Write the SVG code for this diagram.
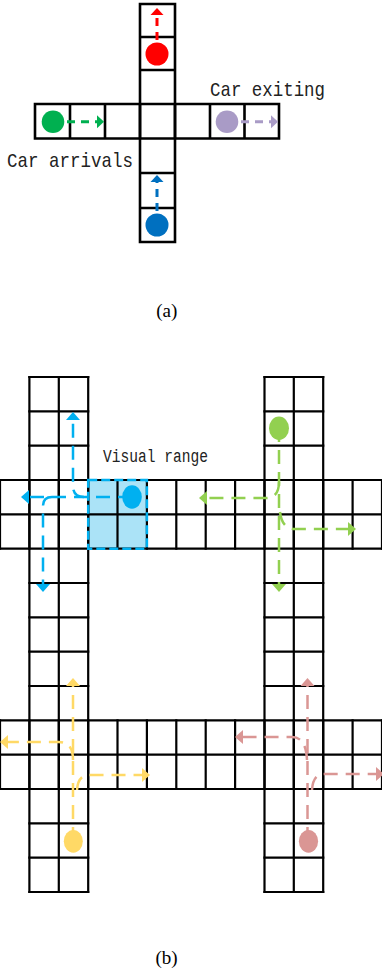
<svg xmlns="http://www.w3.org/2000/svg" width="382" height="974" viewBox="0 0 382 974">
<style>
.grid{fill:none;stroke:#000;stroke-width:2.2;stroke-linecap:square}
.grida{fill:none;stroke:#000;stroke-width:2.6;stroke-linecap:square}
.lbl{font-family:"Liberation Mono","DejaVu Sans Mono",monospace;fill:#222}
.cap{font-family:"Liberation Serif","Times New Roman",serif;font-size:19px;fill:#000;text-anchor:middle}
.da{fill:none;stroke-width:3;stroke-dasharray:8 6}
.db{fill:none;stroke-width:2.5;stroke-dasharray:14 8}
</style>
<defs>
<marker id="ah-red" markerUnits="userSpaceOnUse" markerWidth="8" markerHeight="13" refX="0" refY="6.5" orient="auto" overflow="visible"><path d="M0,0L7,6.5L0,13z" fill="#FF0000"/></marker>
<marker id="ah-green" markerUnits="userSpaceOnUse" markerWidth="8" markerHeight="13" refX="0" refY="6.5" orient="auto" overflow="visible"><path d="M0,0L7,6.5L0,13z" fill="#00B050"/></marker>
<marker id="ah-purple" markerUnits="userSpaceOnUse" markerWidth="8" markerHeight="13" refX="0" refY="6.5" orient="auto" overflow="visible"><path d="M0,0L7,6.5L0,13z" fill="#A99BC6"/></marker>
<marker id="ah-blue" markerUnits="userSpaceOnUse" markerWidth="8" markerHeight="13" refX="0" refY="6.5" orient="auto" overflow="visible"><path d="M0,0L7,6.5L0,13z" fill="#0070C0"/></marker>
<marker id="ah-cyan" markerUnits="userSpaceOnUse" markerWidth="9" markerHeight="14" refX="0" refY="7" orient="auto" overflow="visible"><path d="M0,0L8,7L0,14z" fill="#00B0F0"/></marker>
<marker id="ah-lgreen" markerUnits="userSpaceOnUse" markerWidth="9" markerHeight="14" refX="0" refY="7" orient="auto" overflow="visible"><path d="M0,0L8,7L0,14z" fill="#92D050"/></marker>
<marker id="ah-yellow" markerUnits="userSpaceOnUse" markerWidth="9" markerHeight="14" refX="0" refY="7" orient="auto" overflow="visible"><path d="M0,0L8,7L0,14z" fill="#FFD966"/></marker>
<marker id="ah-pink" markerUnits="userSpaceOnUse" markerWidth="9" markerHeight="14" refX="0" refY="7" orient="auto" overflow="visible"><path d="M0,0L8,7L0,14z" fill="#DA9694"/></marker>
</defs>
<rect width="382" height="974" fill="#fff"/>

<!-- Panel (a) grid -->
<g id="grid-a" class="grida">
<path d="M140,4V242M175,4V242M140,4H175M140,37H175M140,70H175M140,173H175M140,208H175M140,242H175"/>
<path d="M35,104H279M35,138.5H279M35,104V138.5M70,104V138.5M105,104V138.5M140,104V138.5M175,104V138.5M210,104V138.5M244.5,104V138.5M279,104V138.5"/>
</g>

<!-- Panel (b) visual range fill -->
<rect id="visual-range-fill" x="88.2" y="480" width="58.7" height="68.7" fill="#ABE3F7"/>

<!-- Panel (b) grid -->
<g id="grid-b" class="grid">
<path d="M0,480H382M0,514.3H382M0,548.7H382M0,720.3H382M0,754.7H382M0,789H382"/>
<path d="M0,480V548.7M29.4,480V548.7M58.8,480V548.7M88.2,480V548.7M117.5,480V548.7M146.9,480V548.7M176.3,480V548.7M205.7,480V548.7M235.1,480V548.7M264.5,480V548.7M293.8,480V548.7M323.2,480V548.7M352.6,480V548.7M382,480V548.7"/>
<path d="M0,720.3V789M29.4,720.3V789M58.8,720.3V789M88.2,720.3V789M117.5,720.3V789M146.9,720.3V789M176.3,720.3V789M205.7,720.3V789M235.1,720.3V789M264.5,720.3V789M293.8,720.3V789M323.2,720.3V789M352.6,720.3V789M382,720.3V789"/>
<path d="M29.4,377V892M58.8,377V892M88.2,377V892M264.5,377V892M293.8,377V892M323.2,377V892"/>
<path d="M29.4,377H88.2M29.4,411.3H88.2M29.4,445.7H88.2M29.4,583H88.2M29.4,617.3H88.2M29.4,651.7H88.2M29.4,686H88.2M29.4,823.3H88.2M29.4,857.7H88.2M29.4,892H88.2"/>
<path d="M264.5,377H323.2M264.5,411.3H323.2M264.5,445.7H323.2M264.5,583H323.2M264.5,617.3H323.2M264.5,651.7H323.2M264.5,686H323.2M264.5,823.3H323.2M264.5,857.7H323.2M264.5,892H323.2"/>
</g>

<rect id="visual-range-border" x="88.2" y="480" width="58.7" height="68.7" fill="none" stroke="#00B0F0" stroke-width="2.5" stroke-dasharray="9 4"/>

<!-- Connectors -->
<g id="connectors">
<path class="da" stroke="#FF0000" d="M157,54V15" marker-end="url(#ah-red)"/>
<path class="da" stroke="#00B050" d="M53,121.7H97" marker-end="url(#ah-green)"/>
<path class="da" stroke="#A99BC6" d="M227,121.7H271" marker-end="url(#ah-purple)"/>
<path class="da" stroke="#0070C0" d="M157,225V182" marker-end="url(#ah-blue)"/>

<path class="db" stroke="#00B0F0" d="M132,497H29" marker-end="url(#ah-cyan)"/>
<path class="db" stroke="#00B0F0" d="M84,497Q73,497 73,486V420" marker-end="url(#ah-cyan)"/>
<path class="db" stroke="#00B0F0" d="M52,497Q43,497 43,506V584" marker-end="url(#ah-cyan)"/>

<path class="db" stroke="#92D050" d="M279,428V584" marker-end="url(#ah-lgreen)"/>
<path class="db" stroke="#92D050" d="M279,482Q279,498 266,498H207" marker-end="url(#ah-lgreen)"/>
<path class="db" stroke="#92D050" d="M280,512Q282,529 295,529H348" marker-end="url(#ah-lgreen)"/>

<path class="db" stroke="#FFD966" d="M73,841V686" marker-end="url(#ah-yellow)"/>
<path class="db" stroke="#FFD966" d="M73,760Q73,742 59,742H8" marker-end="url(#ah-yellow)"/>
<path class="db" stroke="#FFD966" d="M77,790Q78,775 89,775H142" marker-end="url(#ah-yellow)"/>

<path class="db" stroke="#DA9694" d="M307.5,841V686" marker-end="url(#ah-pink)"/>
<path class="db" stroke="#DA9694" d="M307,760Q306,737 292,737H243" marker-end="url(#ah-pink)"/>
<path class="db" stroke="#DA9694" d="M312,790Q313,774 324,774H376" marker-end="url(#ah-pink)"/>
</g>

<!-- Cars panel (a) -->
<g id="car-red"><circle cx="157" cy="54" r="11.5" fill="#FF0000"/></g>
<g id="car-green"><circle cx="53" cy="121.7" r="11.3" fill="#00B050"/></g>
<g id="car-purple"><circle cx="227" cy="121.7" r="11.3" fill="#A99BC6"/></g>
<g id="car-blue"><circle cx="157" cy="225" r="11.5" fill="#0070C0"/></g>

<!-- Cars panel (b) -->
<g id="car-cyan"><ellipse cx="132" cy="497" rx="9.8" ry="11.7" fill="#00B0F0"/></g>
<g id="car-lightgreen"><ellipse cx="279" cy="428.3" rx="10" ry="11.7" fill="#92D050"/></g>
<g id="car-yellow"><ellipse cx="73.3" cy="841.3" rx="9.5" ry="11.4" fill="#FFD966"/></g>
<g id="car-pink"><ellipse cx="308.5" cy="841.3" rx="9.6" ry="11.4" fill="#DA9694"/></g>

<!-- Labels -->
<g id="label-exiting"><text class="lbl" x="210" y="95.5" font-size="21" textLength="115" lengthAdjust="spacingAndGlyphs">Car exiting</text></g>
<g id="label-arrivals"><text class="lbl" x="7" y="166.5" font-size="21" textLength="126" lengthAdjust="spacingAndGlyphs">Car arrivals</text></g>
<g id="label-visual"><text class="lbl" x="103" y="461.5" font-size="18" textLength="105" lengthAdjust="spacingAndGlyphs">Visual range</text></g>
<g id="caption-a"><text class="cap" x="166.7" y="317">(a)</text></g>
<g id="caption-b"><text class="cap" x="166.5" y="964">(b)</text></g>
</svg>
